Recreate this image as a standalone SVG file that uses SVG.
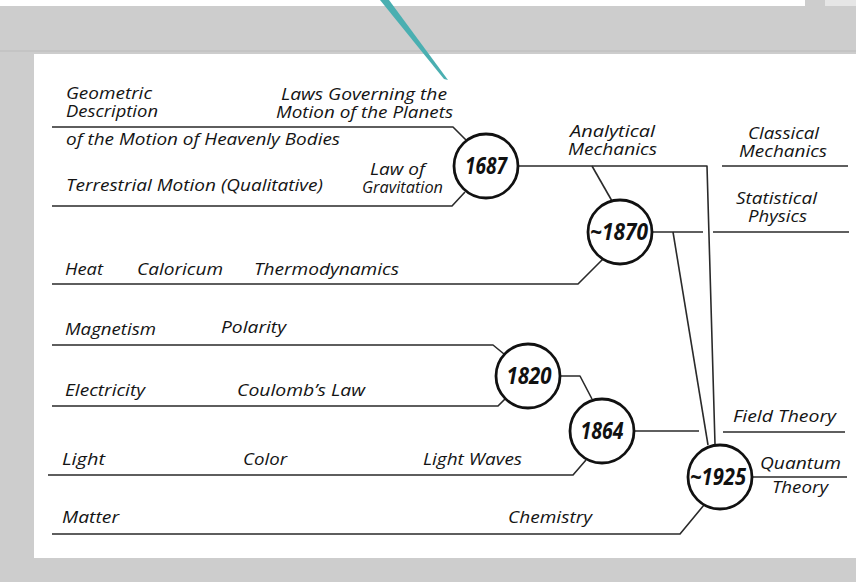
<svg xmlns="http://www.w3.org/2000/svg" width="856" height="582" viewBox="0 0 856 582">
<style>
.t{font-family:"Open Sans","Noto Sans","DejaVu Sans",sans-serif;font-style:italic;font-size:15.5px;fill:#141414}
.y{font-family:"Open Sans","Noto Sans","DejaVu Sans",sans-serif;font-style:italic;font-weight:bold;font-size:23px;fill:#111;text-anchor:middle}
.c{fill:#fff;stroke:#111;stroke-width:2.8}
.ln{fill:none;stroke:#2a2a2a;stroke-width:1.6;stroke-linejoin:round}
</style>
<rect x="0" y="0" width="856" height="582" fill="#cdcdcd"/>
<rect x="0" y="0" width="805" height="6" fill="#ffffff"/>
<rect x="825" y="0" width="31" height="6" fill="#e6e6e6"/>
<rect x="0" y="50" width="856" height="2" fill="#c4c4c4"/>
<rect x="34" y="54" width="822" height="504" fill="#ffffff"/>
<path d="M380,0 L389,0 L448,80 L444,79 Z" fill="#4aafb1"/>

<g id="connectors" class="ln">
<path d="M52,127 H453 L466,140"/>
<path d="M52,206 H452 L465,192"/>
<path d="M518,166 H707 L715,444"/>
<path d="M592,166 L612,201"/>
<path d="M722,166 H848"/>
<path d="M652,232 H703"/>
<path d="M713,232 H849"/>
<path d="M673,232 L708,445"/>
<path d="M52,284 H578 L603,259"/>
<path d="M52,345 H493 L504,354"/>
<path d="M52,406 H498 L505,399"/>
<path d="M561,376 H580 L592,399"/>
<path d="M635,431 H699"/>
<path d="M723,432 H845"/>
<path d="M48,475 H573 L586,460"/>
<path d="M52,534 H680 L704,505"/>
<path d="M753,477 H847"/>
</g>

<g id="labels">
<text class="t"><tspan x="66" y="99" textLength="86" lengthAdjust="spacingAndGlyphs">Geometric</tspan><tspan x="66" y="117" textLength="92" lengthAdjust="spacingAndGlyphs">Description</tspan></text>
<text class="t"><tspan x="281" y="100" textLength="166" lengthAdjust="spacingAndGlyphs">Laws Governing the</tspan><tspan x="276" y="118" textLength="177" lengthAdjust="spacingAndGlyphs">Motion of the Planets</tspan></text>
<text class="t" x="66" y="145" textLength="274" lengthAdjust="spacingAndGlyphs">of the Motion of Heavenly Bodies</text>
<text class="t"><tspan x="370" y="175" textLength="55" lengthAdjust="spacingAndGlyphs">Law of</tspan><tspan x="362" y="193" textLength="81" lengthAdjust="spacingAndGlyphs">Gravitation</tspan></text>
<text class="t" x="66" y="191" textLength="257" lengthAdjust="spacingAndGlyphs">Terrestrial Motion (Qualitative)</text>
<text class="t"><tspan x="570" y="137" textLength="85" lengthAdjust="spacingAndGlyphs">Analytical</tspan><tspan x="568" y="155" textLength="89" lengthAdjust="spacingAndGlyphs">Mechanics</tspan></text>
<text class="t"><tspan x="748" y="139" textLength="71" lengthAdjust="spacingAndGlyphs">Classical</tspan><tspan x="739" y="157" textLength="88" lengthAdjust="spacingAndGlyphs">Mechanics</tspan></text>
<text class="t"><tspan x="736" y="204" textLength="81" lengthAdjust="spacingAndGlyphs">Statistical</tspan><tspan x="748" y="222" textLength="59" lengthAdjust="spacingAndGlyphs">Physics</tspan></text>
<text class="t" x="65" y="275" textLength="38" lengthAdjust="spacingAndGlyphs">Heat</text>
<text class="t" x="137" y="275" textLength="86" lengthAdjust="spacingAndGlyphs">Caloricum</text>
<text class="t" x="254" y="275" textLength="145" lengthAdjust="spacingAndGlyphs">Thermodynamics</text>
<text class="t" x="65" y="335" textLength="91" lengthAdjust="spacingAndGlyphs">Magnetism</text>
<text class="t" x="221" y="333" textLength="65" lengthAdjust="spacingAndGlyphs">Polarity</text>
<text class="t" x="65" y="396" textLength="80" lengthAdjust="spacingAndGlyphs">Electricity</text>
<text class="t" x="237" y="396" textLength="128" lengthAdjust="spacingAndGlyphs">Coulomb’s Law</text>
<text class="t" x="62" y="465" textLength="43" lengthAdjust="spacingAndGlyphs">Light</text>
<text class="t" x="243" y="465" textLength="44" lengthAdjust="spacingAndGlyphs">Color</text>
<text class="t" x="423" y="465" textLength="99" lengthAdjust="spacingAndGlyphs">Light Waves</text>
<text class="t" x="62" y="523" textLength="57" lengthAdjust="spacingAndGlyphs">Matter</text>
<text class="t" x="508" y="523" textLength="84" lengthAdjust="spacingAndGlyphs">Chemistry</text>
<text class="t" x="733" y="422" textLength="103" lengthAdjust="spacingAndGlyphs">Field Theory</text>
<text class="t"><tspan x="760" y="469" textLength="81" lengthAdjust="spacingAndGlyphs">Quantum</tspan><tspan x="772" y="493" textLength="56" lengthAdjust="spacingAndGlyphs">Theory</tspan></text>
</g>

<g id="n1687">
<circle class="c" cx="486" cy="166" r="32"/>
<text class="y" x="486" y="174" textLength="42" lengthAdjust="spacingAndGlyphs">1687</text>
</g>
<g id="n1870">
<circle class="c" cx="620" cy="232" r="32"/>
<text class="y" x="619" y="240" textLength="58" lengthAdjust="spacingAndGlyphs">~1870</text>
</g>
<g id="n1820">
<circle class="c" cx="528" cy="376" r="32"/>
<text class="y" x="529" y="384" textLength="45" lengthAdjust="spacingAndGlyphs">1820</text>
</g>
<g id="n1864">
<circle class="c" cx="602" cy="431" r="32"/>
<text class="y" x="602" y="439" textLength="43" lengthAdjust="spacingAndGlyphs">1864</text>
</g>
<g id="n1925">
<circle class="c" cx="720" cy="477" r="32"/>
<text class="y" x="718" y="485" textLength="56" lengthAdjust="spacingAndGlyphs">~1925</text>
</g>
</svg>
